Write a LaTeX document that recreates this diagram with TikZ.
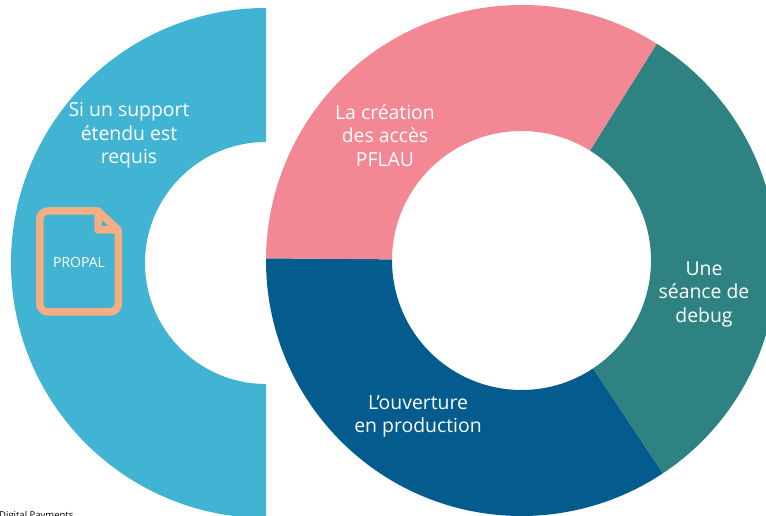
\documentclass[tikz,border=0pt]{standalone}
\usepackage{fontspec}
\setmainfont{Open Sans}
\definecolor{supportblue}{HTML}{41B3D3}
\definecolor{accesspink}{HTML}{F38894}
\definecolor{debugteal}{HTML}{2E8382}
\definecolor{prodblue}{HTML}{045B8D}
\definecolor{iconorange}{HTML}{F5AE82}
\tikzset{
    label/.style={text=white,align=center,font=\fontsize{19.4}{23.5}\selectfont},
    docline/.style={draw=iconorange,line width=7.5pt,line join=round}
}
\newcommand{\ringpart}[5]{\fill[#1] (#2)+(#3:255.5) arc (#3:#4:255.5) -- ++(#4:-126) arc (#4:#3:129.5) -- cycle;}
\begin{document}
\begin{tikzpicture}[x=1pt,y=1pt]
    \useasboundingbox (0,0) rectangle (766,516);
    \clip (0,0) rectangle (766,516);
    \coordinate (ringc) at (521.5,255.5);
    \fill[supportblue] (266,508) arc (90:270:255) -- (266,132) arc (270:90:121) -- cycle;
    \ringpart{prodblue}{ringc}{179.5}{303.6}{}
    \ringpart{accesspink}{ringc}{58}{179.5}{}
    \ringpart{debugteal}{ringc}{303.6}{418}{}
    \draw[docline] (98,305) -- (48,305) to[out=180,in=90] (39.75,297) -- (39.75,212) to[out=-90,in=180] (48,204) -- (110,204) to[out=0,in=-90] (118.25,212) -- (118.25,286) -- (98,305) -- (98,286) -- (118.25,286);
    \node[label] (support) at (129,380.5) {Si un support\\étendu est\\requis};
    \node[text=white,font=\fontsize{14}{16}\selectfont] (propal) at (79,254) {PROPAL};
    \node[label] (access) at (385,380.5) {La création\\des accès\\PFLAU};
    \node[label] (debug) at (704,222) {Une\\séance de\\debug};
    \node[label] (prod) at (418,99.5) {L’ouverture\\en production};
    \node[font=\fontsize{9.5}{10}\selectfont,anchor=west,inner sep=0pt] (footer) at (-1,-0.5) {Digital Payments};
\end{tikzpicture}
\end{document}
